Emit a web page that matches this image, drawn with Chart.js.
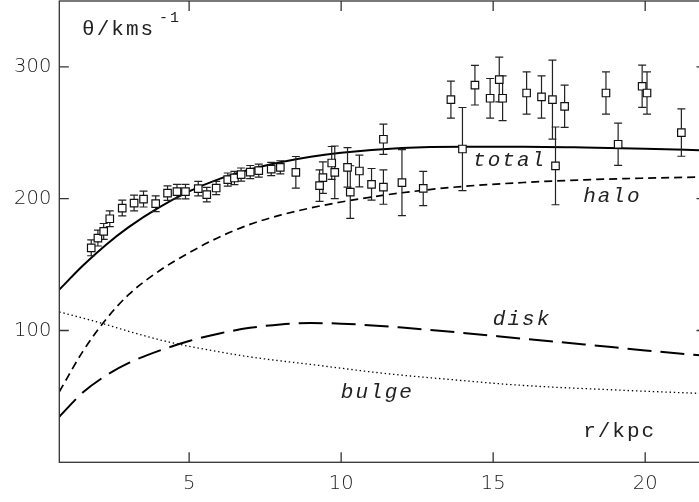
<!DOCTYPE html>
<html>
<head>
<meta charset="utf-8">
<script src="https://cdn.jsdelivr.net/npm/chart.js@4.4.1/dist/chart.umd.min.js"></script>
<style>
  html, body { margin: 0; padding: 0; background: #fff; overflow: hidden; }
  #wrap { position: relative; width: 720px; height: 502px; }
</style>
</head>
<body>
<div id="wrap"><canvas id="rotCurve"></canvas></div>
<script>
// observed rotation speeds (kpc, km/s) with 1-sigma errors
var radius = [1.78, 2.00, 2.19, 2.39, 2.80, 3.19, 3.50, 3.90, 4.29, 4.60,
              4.88, 5.30, 5.58, 5.89, 6.27, 6.49, 6.71, 7.01, 7.29, 7.70,
              8.00, 8.51, 9.29, 9.40, 9.69, 9.79, 10.21, 10.30, 10.60, 11.00,
              11.39, 11.39, 12.00, 12.70, 13.61, 13.99, 14.40, 14.90, 15.20, 15.31,
              16.10, 16.59, 16.95, 17.05, 17.35, 18.71, 19.11, 19.90, 20.06, 21.19];
var velocity = [162.7, 170.1, 175.2, 184.8, 192.9, 196.7, 199.7, 196.2, 204.3, 205.3,
                205.3, 207.6, 203.1, 208.1, 214.5, 215.7, 218.3, 220.2, 221.3, 222.5,
                223.8, 220.0, 209.9, 216.0, 227.1, 220.0, 223.8, 205.0, 221.0, 210.9,
                208.8, 245.1, 212.2, 207.8, 275.2, 237.7, 286.1, 276.2, 290.4, 276.2,
                280.2, 277.2, 275.2, 224.9, 270.1, 280.2, 241.3, 285.3, 280.2, 250.2];
var velErr = [6, 6, 6, 6, 6, 6, 6, 6, 5.5, 5.5,
              5.5, 5.5, 5.5, 5, 5, 5, 5, 5, 5, 5,
              5, 12, 12, 12, 12.5, 20, 15, 20, 12, 12,
              13, 11.5, 25, 13, 14, 31.5, 15, 15, 17, 17,
              16, 16, 30, 29.5, 16, 16, 16, 16, 16, 18];

// mass model components, sampled in r
var modelR = [0.73, 1.5, 2.25, 3, 4, 5, 6, 7, 8, 9, 10, 12, 14, 16, 18, 20, 22];
var totalV = [131, 149.1, 164.7, 178.2, 193.2, 205.5, 215, 222.1, 227.6, 231.8, 234.9, 238.5, 239.5, 239.5, 238.9, 237.9, 236.6];
var haloV = [53.5, 84, 108, 127, 145, 159, 171, 180.5, 187.5, 193, 197.5, 204.5, 209.3, 212.3, 214.3, 215.6, 216.5];
var diskV = [34.6, 52.9, 65.6, 75.2, 84.5, 92, 97.8, 102, 104.6, 105.6, 105.2, 102.2, 98.2, 93.7, 89.4, 84.9, 80.8];

var bulgeR = [0.73, 2.08, 3.17, 4.27, 5.36, 7.0, 9.2, 11.4, 13.6, 15.8, 19.1, 22];
var bulgeV = [114.1, 105.8, 98.3, 91.6, 86.4, 80.0, 73.7, 67.5, 62.8, 58.6, 54.8, 52.1];

var xTickVals = [5, 10, 15, 20];
var yTickVals = [100, 200, 300];

function pairs(xs, ys) {
  return xs.map(function (x, i) { return { x: x, y: ys[i] }; });
}

function curve(label, xs, ys, width, dash) {
  return {
    type: 'line',
    label: label,
    data: pairs(xs, ys),
    borderColor: '#000',
    borderWidth: width,
    borderDash: dash,
    pointRadius: 0,
    fill: false,
    cubicInterpolationMode: 'monotone',
    order: 2
  };
}

// text drawn inside the frame, anchored in data units (left edge, baseline)
var annotations = [
  { text: 'total', r: 14.34, v: 224.5, italic: true },
  { text: 'halo', r: 17.96, v: 197.5, italic: true },
  { text: 'disk', r: 14.99, v: 104.1, italic: true },
  { text: 'bulge', r: 9.99, v: 48.7, italic: true },
  { text: 'r/kpc', r: 17.96, v: 19.4, italic: false },
  { text: '\u03b8/kms', r: 1.48, v: 323.9, italic: false, sup: '-1' }
];

var framePlugin = {
  id: 'framePlugin',
  // error bars go under the open squares
  beforeDatasetDraw: function (chart, args) {
    if (args.meta.label !== 'points') return;
    var ctx = chart.ctx, xs = chart.scales.x, ys = chart.scales.y;
    ctx.save();
    ctx.strokeStyle = '#222';
    ctx.lineWidth = 1.2;
    ctx.beginPath();
    for (var i = 0; i < radius.length; i++) {
      var px = xs.getPixelForValue(radius[i]);
      var top = ys.getPixelForValue(velocity[i] + velErr[i]);
      var bot = ys.getPixelForValue(velocity[i] - velErr[i]);
      ctx.moveTo(px, top); ctx.lineTo(px, bot);
      ctx.moveTo(px - 4, top); ctx.lineTo(px + 4, top);
      ctx.moveTo(px - 4, bot); ctx.lineTo(px + 4, bot);
    }
    ctx.stroke();
    ctx.restore();
  },
  afterDraw: function (chart) {
    var ctx = chart.ctx, a = chart.chartArea;
    var xs = chart.scales.x, ys = chart.scales.y;
    ctx.save();
    ctx.strokeStyle = '#333';
    ctx.lineWidth = 1.3;
    ctx.strokeRect(a.left, a.top, a.right - a.left, a.bottom - a.top);
    // inward ticks on all four sides
    ctx.beginPath();
    xTickVals.forEach(function (v) {
      var p = xs.getPixelForValue(v);
      ctx.moveTo(p, a.bottom); ctx.lineTo(p, a.bottom - 10);
      ctx.moveTo(p, a.top); ctx.lineTo(p, a.top + 10);
    });
    yTickVals.forEach(function (v) {
      var p = ys.getPixelForValue(v);
      ctx.moveTo(a.left, p); ctx.lineTo(a.left + 9.5, p);
      ctx.moveTo(a.right, p); ctx.lineTo(a.right - 9.5, p);
    });
    ctx.stroke();

    ctx.fillStyle = '#222';
    ctx.textAlign = 'left';
    ctx.textBaseline = 'alphabetic';
    ctx.letterSpacing = '2px';
    annotations.forEach(function (t) {
      var x = xs.getPixelForValue(t.r), y = ys.getPixelForValue(t.v);
      ctx.font = (t.italic ? 'italic ' : '') + '21px "Liberation Mono"';
      ctx.fillText(t.text, x, y);
      if (t.sup) {
        var w = ctx.measureText(t.text).width;
        ctx.font = '15px "Liberation Mono"';
        ctx.fillText(t.sup, x + w + 4, y - 13);
      }
    });
    ctx.restore();
  }
};

var ctx = document.getElementById('rotCurve').getContext('2d');
var rotChart = new Chart(ctx, {
  data: {
    datasets: [
      {
        type: 'scatter',
        label: 'points',
        data: pairs(radius, velocity),
        pointStyle: 'rect',
        pointRadius: 5.3,
        pointBackgroundColor: '#fff',
        pointBorderColor: '#111',
        pointBorderWidth: 1.2,
        order: 1
      },
      curve('total', modelR, totalV, 2, []),
      curve('halo', modelR, haloV, 1.7, [8, 5]),
      curve('disk', modelR, diskV, 2, [24, 9]),
      curve('bulge', bulgeR, bulgeV, 1.3, [1.4, 2.8])
    ]
  },
  options: {
    responsive: true,
    maintainAspectRatio: false,
    devicePixelRatio: 1,
    animation: false,
    layout: { autoPadding: false, padding: { left: 0, top: 1, right: 14, bottom: 0 } },
    scales: {
      x: {
        type: 'linear',
        min: 0.73,
        max: 22,
        afterBuildTicks: function (s) { s.ticks = xTickVals.map(function (v) { return { value: v }; }); },
        afterFit: function (s) { s.height = 39.7; s.paddingLeft = 0; s.paddingRight = 0; },
        grid: { drawOnChartArea: false, drawTicks: false },
        border: { display: false },
        ticks: {
          padding: 10,
          color: '#1a1a1a',
          maxRotation: 0,
          font: { family: 'DejaVu Sans', size: 19.5, weight: 200 }
        }
      },
      y: {
        type: 'linear',
        min: 0,
        max: 350,
        afterBuildTicks: function (s) { s.ticks = yTickVals.map(function (v) { return { value: v }; }); },
        afterFit: function (s) { s.width = 59.3; s.paddingTop = 0; s.paddingBottom = 0; },
        grid: { drawOnChartArea: false, drawTicks: false },
        border: { display: false },
        ticks: {
          padding: 8,
          color: '#1a1a1a',
          font: { family: 'DejaVu Sans', size: 19.5, weight: 200 }
        }
      }
    },
    plugins: {
      legend: { display: false },
      tooltip: { enabled: false }
    }
  },
  plugins: [framePlugin]
});
</script>
</body>
</html>
